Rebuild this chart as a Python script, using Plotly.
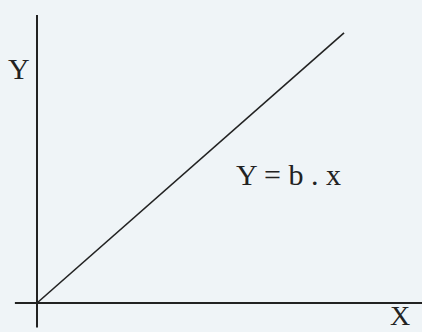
import plotly.graph_objects as go

# Data: the line Y = b . x drawn from the origin
b = 0.88
x_values = [0, 10]
y_values = [b * x for x in x_values]

# Axis labels and equation text
x_label = "X"
y_label = "Y"
equation = "Y = b . x"

BG = "#eff4f7"
INK = "#222222"
FONT = "Liberation Serif, Times New Roman, serif"

fig = go.Figure()
fig.add_trace(go.Scatter(x=x_values, y=y_values, mode="lines",
                         line=dict(color=INK, width=1.6), hoverinfo="skip"))

# Hand-drawn style axes crossing at the origin
fig.add_shape(type="line", x0=0, x1=0, y0=-0.8, y1=9.38,
              line=dict(color=INK, width=2))
fig.add_shape(type="line", x0=-0.72, x1=12.6, y0=0, y1=0,
              line=dict(color=INK, width=2))

fig.add_annotation(x=-0.59, y=7.64, text=y_label, showarrow=False,
                   font=dict(family=FONT, size=30, color=INK))
fig.add_annotation(x=11.82, y=-0.4, text=x_label, showarrow=False,
                   font=dict(family=FONT, size=28, color=INK))
fig.add_annotation(x=8.18, y=4.2, text=equation, showarrow=False,
                   font=dict(family=FONT, size=30, color=INK))

fig.update_layout(
    width=422, height=332,
    margin=dict(l=0, r=0, t=0, b=0),
    paper_bgcolor=BG, plot_bgcolor=BG,
    showlegend=False,
    xaxis=dict(range=[-1.205, 12.54], visible=False, fixedrange=True),
    yaxis=dict(range=[-0.945, 9.87], visible=False, fixedrange=True),
)

fig.write_html(
    "out.html",
    config={"displayModeBar": False},
    post_script="document.body.style.margin='0';document.body.style.overflow='hidden';",
)
